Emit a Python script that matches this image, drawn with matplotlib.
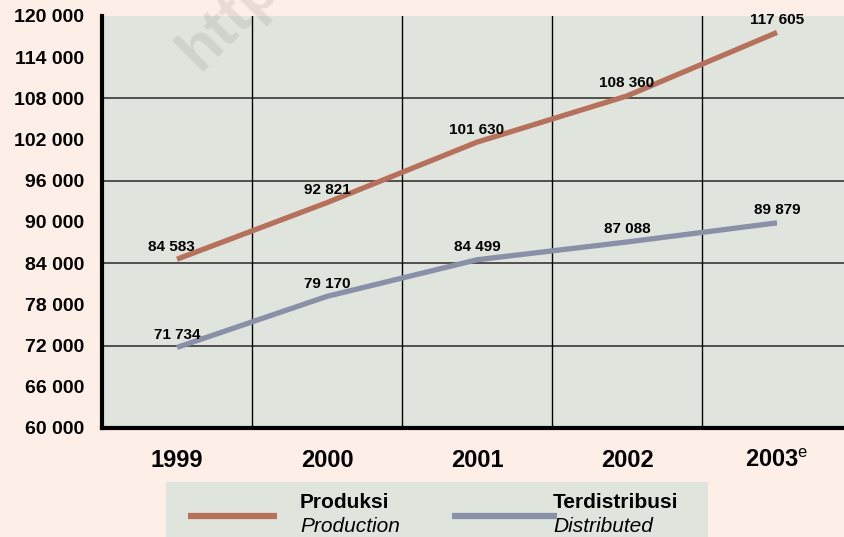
import numpy as np
import matplotlib
matplotlib.use('Agg')
import matplotlib.pyplot as plt
from matplotlib.lines import Line2D
from matplotlib.patches import Rectangle

# data
years = ['1999', '2000', '2001', '2002', '2003']
produksi = [84583, 92821, 101630, 108360, 117605]
terdistribusi = [71734, 79170, 84499, 87088, 89879]
yticks = list(range(60000, 120001, 6000))
hgrid = [72000, 84000, 96000, 108000]

col_prod = '#b8705a'
col_dist = '#8a90a8'
bg_fig = '#fdeee7'
bg_ax = '#dfe5dd'

plt.rcParams['font.family'] = ['Liberation Sans', 'DejaVu Sans']
plt.rcParams['mathtext.fontset'] = 'custom'
plt.rcParams['mathtext.rm'] = 'Liberation Sans'
plt.rcParams['mathtext.bf'] = 'Liberation Sans:bold'

fig = plt.figure(figsize=(8.44, 5.37), dpi=100, facecolor=bg_fig)
W, H = 844, 537
ax = fig.add_axes([102 / W, 109 / H, 750 / W, 412 / H])
ax.set_facecolor(bg_ax)

x = np.arange(len(years))
ax.plot(x, produksi, color=col_prod, lw=3.8, solid_capstyle='butt', zorder=3)
ax.plot(x, terdistribusi, color=col_dist, lw=3.8, solid_capstyle='butt', zorder=3)

def fmt(v):
    return '{:,}'.format(v).replace(',', ' ')

for xi, v in zip(x, produksi):
    dx = -4 if xi == 0 else 0
    ax.annotate(fmt(v), (xi, v), xytext=(dx, 9), textcoords='offset points',
                ha='center', va='center', fontsize=11, fontweight='bold', zorder=4)
for xi, v in zip(x, terdistribusi):
    ax.annotate(fmt(v), (xi, v), xytext=(0, 9), textcoords='offset points',
                ha='center', va='center', fontsize=11, fontweight='bold', zorder=4)

ax.set_xlim(-0.5, 4.5)
ax.set_ylim(60000, 120000)

# grid
for g in hgrid:
    ax.axhline(g, color='#444444', lw=1.3, zorder=1)
for b in x[:-1] + 0.5:
    ax.axvline(b, color='black', lw=1.0, zorder=1)

ax.set_yticks(yticks)
ax.set_yticklabels([fmt(v) for v in yticks], fontsize=14, fontweight='bold')
ax.set_xticks(x)
labels = years[:-1] + [years[-1] + r'$^{\mathrm{e}}$']
ax.set_xticklabels(labels, fontsize=17, fontweight='bold')
ax.tick_params(axis='y', length=0, pad=13)
ax.tick_params(axis='x', length=0, pad=15)

for s in ['top', 'right']:
    ax.spines[s].set_visible(False)
ax.spines['left'].set_linewidth(3)
ax.spines['bottom'].set_linewidth(3)

# watermark (under the grid lines)
ax.text(200 / W, 1 - 72 / H, 'http://', transform=fig.transFigure, rotation=45,
        fontsize=44, fontweight='bold', color='black', alpha=0.08, ha='left',
        va='baseline', rotation_mode='anchor', zorder=0.5)

# legend box
fig.add_artist(Rectangle((166 / W, 0), (708 - 166) / W, (537 - 482) / H,
                         transform=fig.transFigure, facecolor=bg_ax, edgecolor='none'))
fig.add_artist(Line2D([188 / W, 277 / W], [1 - 516 / H] * 2, color=col_prod, lw=4.5,
                      solid_capstyle='butt', transform=fig.transFigure))
fig.add_artist(Line2D([452 / W, 557 / W], [1 - 516 / H] * 2, color=col_dist, lw=4.5,
                      solid_capstyle='butt', transform=fig.transFigure))
fig.text(300 / W, 1 - 502 / H, 'Produksi', fontsize=15, fontweight='bold', va='center')
fig.text(300 / W, 1 - 526 / H, 'Production', fontsize=15, style='italic', va='center')
fig.text(553 / W, 1 - 502 / H, 'Terdistribusi', fontsize=15, fontweight='bold', va='center')
fig.text(553 / W, 1 - 526 / H, 'Distributed', fontsize=15, style='italic', va='center')

fig.savefig('out.png', dpi=100, facecolor=bg_fig)
